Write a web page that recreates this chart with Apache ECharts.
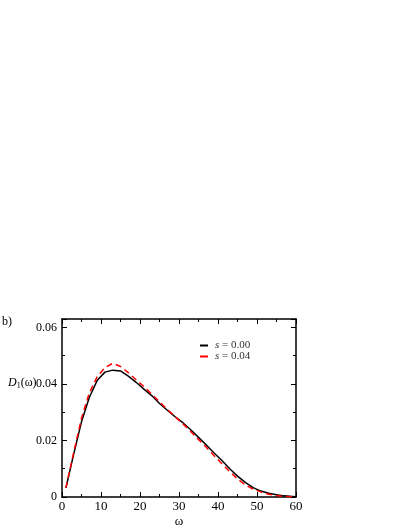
<!DOCTYPE html>
<html><head><meta charset="utf-8">
<script src="https://cdn.jsdelivr.net/npm/echarts@6/dist/echarts.min.js"></script>
<style>html,body{margin:0;padding:0;background:#fff}#c{width:409px;height:529px}</style>
</head><body><div id="c"></div>
<script>
const omega = [1,3,5,7,9,11,13,15,17,19,21,23,25,27,29,31,33,35,37,39,41,43,45,47,49,51,53,55,57,59,60];
const s000 = [0.0032,0.0152,0.0266,0.0352,0.0412,0.0442,0.0449,0.0446,0.0428,0.0406,0.0382,0.0359,0.0331,0.0307,0.0284,0.0263,0.0238,0.0211,0.0184,0.0156,0.0129,0.0100,0.0074,0.0052,0.0033,0.0021,0.0013,0.0008,0.0004,0.0002,0.0001];
const s004 = [0.0032,0.0158,0.0279,0.0368,0.0425,0.0458,0.0473,0.0462,0.0440,0.0415,0.0391,0.0364,0.0337,0.0310,0.0284,0.0259,0.0232,0.0204,0.0176,0.0146,0.0118,0.0090,0.0064,0.0043,0.0028,0.0018,0.0010,0.0005,0.0002,0.0001,0.0000];
const xTicks = [0,10,20,30,40,50,60];
const yTicks = [0,0.02,0.04,0.06];
const seriesNames = ['s = 0.00','s = 0.04'];

const font = 'Liberation Serif';
const pair = (xs, ys) => xs.map((x,i)=>[x,ys[i]]);
const axisCommon = () => ({
  axisLine:{show:true,onZero:false,lineStyle:{color:'#000',width:1.5}},
  axisTick:{show:true,inside:true,length:5,lineStyle:{color:'#000',width:1}},
  minorTick:{show:true,splitNumber:2,length:3,lineStyle:{color:'#000',width:1}},
  splitLine:{show:false}
});
const chart = echarts.init(document.getElementById('c'));
chart.setOption({
  animation:false,
  backgroundColor:'#fff',
  grid:{left:62,right:113,top:319,bottom:30,show:false},
  legend:{
    top:335,left:195,orient:'vertical',itemGap:0,itemWidth:8,itemHeight:2,icon:'rect',
    data:seriesNames,
    formatter:n=>'{i|s} = '+n.split('= ')[1],
    textStyle:{fontFamily:font,fontSize:11,lineHeight:10,color:'#333',padding:[0,0,0,2],rich:{i:{fontFamily:font,fontStyle:'italic',fontSize:11,lineHeight:10,color:'#333'}}}
  },
  xAxis:[
    Object.assign({type:'value',min:0,max:60,interval:10,position:'bottom',
      name:'ω',nameLocation:'middle',nameGap:18,nameTextStyle:{fontFamily:font,fontSize:13,color:'#000'},
      axisLabel:{fontFamily:font,fontSize:13,color:'#000',margin:3,formatter:v=>xTicks.includes(v)?String(v):''}},axisCommon()),
    Object.assign({type:'value',min:0,max:60,interval:10,position:'top',axisLabel:{show:false}},axisCommon())
  ],
  yAxis:[
    Object.assign({type:'value',min:0,max:0.063,interval:0.02,position:'left',
      axisLabel:{fontFamily:font,fontSize:12,color:'#000',margin:5,formatter:v=>{const t=yTicks.find(a=>Math.abs(a-v)<1e-9);return t===undefined?'':(t===0?'0':t.toFixed(2));}}},axisCommon()),
    Object.assign({type:'value',min:0,max:0.063,interval:0.02,position:'right',axisLabel:{show:false}},axisCommon())
  ],
  series:[
    {name:seriesNames[0],type:'line',data:pair(omega,s000),symbol:'none',smooth:false,color:'#000',lineStyle:{color:'#000',width:1.5},z:3},
    {name:seriesNames[1],type:'line',data:pair(omega,s004),symbol:'none',smooth:false,color:'#ff0000',lineStyle:{color:'#ff0000',width:1.5,type:[6,4]},z:4}
  ],
  graphic:[
    {type:'text',left:2,top:316,style:{text:'b)',fontFamily:font,fontSize:12,fill:'#000'}},
    {type:'text',left:8,top:377,style:{text:'{d|D}{s|1}(ω)',fontFamily:font,fontSize:12,fill:'#000',
      rich:{d:{fontFamily:font,fontStyle:'italic',fontSize:12},s:{fontFamily:font,fontSize:8,verticalAlign:'bottom',padding:[6,0,0,0]}}}}
  ]
});
</script></body></html>
